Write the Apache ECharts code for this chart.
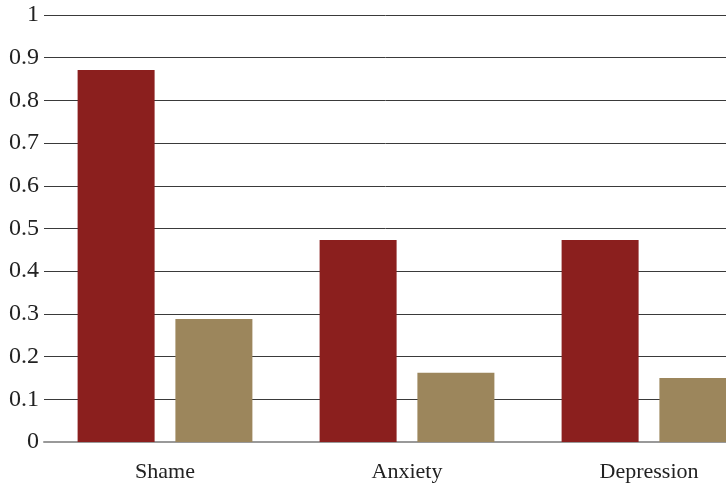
<!DOCTYPE html>
<html>
<head>
<meta charset="utf-8">
<script src="https://cdn.jsdelivr.net/npm/echarts@6/dist/echarts.min.js"></script>
<style>
  html, body { margin: 0; padding: 0; background: #fff; }
  #chart { width: 726px; height: 490px; }
</style>
</head>
<body>
<div id="chart"></div>
<script>
const categories = ['Shame', 'Anxiety', 'Depression'];
const seriesA = [0.871, 0.473, 0.473];
const seriesB = [0.288, 0.162, 0.150];
const yTicks = { min: 0, max: 1, interval: 0.1 };

const font = '"Liberation Serif", "DejaVu Serif", serif';

const chart = echarts.init(document.getElementById('chart'));
chart.setOption({
    animation: false,
    grid: {
        left: 44, top: 15, width: 726, height: 427,
        containLabel: false, outerBoundsMode: 'none'
    },
    xAxis: {
        type: 'category',
        data: categories,
        axisTick: { show: false },
        axisLine: { lineStyle: { color: '#999', width: 2 } },
        axisLabel: { color: '#222', fontFamily: font, fontSize: 22, margin: 19 }
    },
    yAxis: {
        type: 'value',
        min: yTicks.min,
        max: yTicks.max,
        interval: yTicks.interval,
        axisLine: { show: false },
        axisTick: { show: false },
        splitLine: { lineStyle: { color: '#3a3a3a', width: 1 } },
        axisLabel: {
            color: '#222', fontFamily: font, fontSize: 24, margin: 5,
            formatter: v => String(Math.round(v * 10) / 10)
        }
    },
    series: [{
        type: 'bar',
        data: seriesA,
        barWidth: 77,
        barGap: '27%',
        itemStyle: { color: '#8b1f1e' }
    }, {
        type: 'bar',
        data: seriesB,
        barWidth: 77,
        itemStyle: { color: '#9c865c' }
    }]
});
</script>
</body>
</html>
